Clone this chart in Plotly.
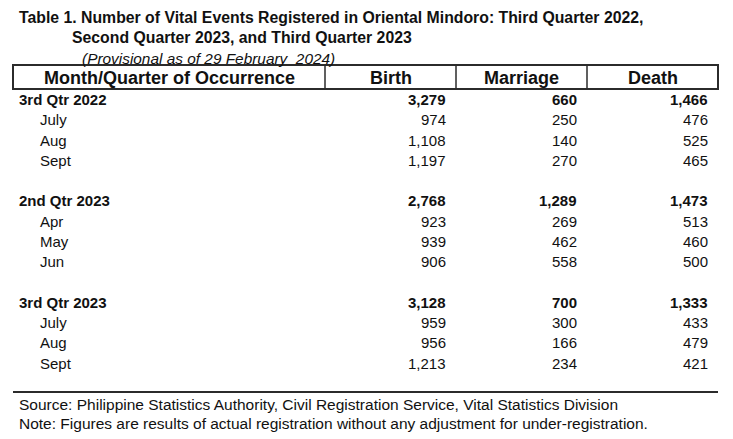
import plotly.graph_objects as go

# ---- data ----
quarters = ["3rd Qtr 2022", "2nd Qtr 2023", "3rd Qtr 2023"]
months = [["July", "Aug", "Sept"], ["Apr", "May", "Jun"], ["July", "Aug", "Sept"]]
birth_q = [3279, 2768, 3128]
marriage_q = [660, 1289, 700]
death_q = [1466, 1473, 1333]
birth_m = [[974, 1108, 1197], [923, 939, 906], [959, 956, 1213]]
marriage_m = [[250, 140, 270], [269, 462, 558], [300, 166, 234]]
death_m = [[476, 525, 465], [513, 460, 500], [433, 479, 421]]
headers = ["Month/Quarter of Occurrence", "Birth", "Marriage", "Death"]
title1 = "Table 1. Number of Vital Events Registered in Oriental Mindoro: Third Quarter 2022,"
title2 = "Second Quarter 2023, and Third Quarter 2023"
subtitle = "(Provisional as of 29 February  2024)"
source = "Source: Philippine Statistics Authority, Civil Registration Service, Vital Statistics Division"
note = "Note: Figures are results of actual registration without any adjustment for under-registration."

# ---- layout constants ----
W, H = 733, 439
FONT = "Liberation Sans, Arial, sans-serif"
TXT = "#111111"
LINE = "#2b2b2b"
col_right = [448, 579, 710]
col_bounds = [13, 325, 456, 587, 718]
group_y0 = 99.5
group_step = 101.3
row_step = 20.3
body_size = 15

fig = go.Figure()
ann = []

def add(text, x, y, size, xanchor="left", bold=False, italic=False):
    t = text
    if bold:
        t = "<b>" + t + "</b>"
    if italic:
        t = "<i>" + t + "</i>"
    ann.append(dict(text=t, x=x, y=y, xref="x", yref="y", xanchor=xanchor,
                    yanchor="middle", showarrow=False,
                    font=dict(family=FONT, size=size, color=TXT)))

# title
add(title1, 17, 17, 15.8, bold=True)
add(title2, 70, 37, 15.8, bold=True)
add(subtitle, 80, 58, 15.4, italic=True)

# header
hx = [(col_bounds[i] + col_bounds[i + 1]) / 2 for i in range(4)]
for i, h in enumerate(headers):
    add(h, hx[i], 77.5, 18, xanchor="center", bold=True)

# body
for g, q in enumerate(quarters):
    y = group_y0 + g * group_step
    add(q, 17, y, body_size, bold=True)
    for c, v in enumerate([birth_q[g], marriage_q[g], death_q[g]]):
        add(f"{v:,}", col_right[c], y, body_size, xanchor="right", bold=True)
    for k, m in enumerate(months[g]):
        yy = y + (k + 1) * row_step
        add(m, 38, yy, body_size)
        for c, arr in enumerate([birth_m, marriage_m, death_m]):
            add(f"{arr[g][k]:,}", col_right[c], yy, body_size, xanchor="right")

# footer
add(source, 17, 404, 15.5)
add(note, 17, 423, 15.5)

shapes = [
    dict(type="rect", x0=col_bounds[0], x1=col_bounds[-1], y0=65, y1=89,
         xref="x", yref="y", line=dict(color=LINE, width=2)),
    dict(type="line", x0=col_bounds[0], x1=col_bounds[-1], y0=392, y1=392,
         xref="x", yref="y", line=dict(color=LINE, width=2)),
]
for xb in col_bounds[1:-1]:
    shapes.append(dict(type="line", x0=xb, x1=xb, y0=65, y1=89, xref="x", yref="y",
                       line=dict(color=LINE, width=1.5)))

fig.update_layout(
    width=W, height=H, margin=dict(l=0, r=0, t=0, b=0),
    paper_bgcolor="white", plot_bgcolor="white",
    xaxis=dict(range=[0, W], visible=False, fixedrange=True),
    yaxis=dict(range=[H, 0], visible=False, fixedrange=True),
    annotations=ann, shapes=shapes, showlegend=False,
)
fig.write_html("out.html", config={"displayModeBar": False},
               post_script="document.body.style.margin='0';document.body.style.overflow='hidden';")
